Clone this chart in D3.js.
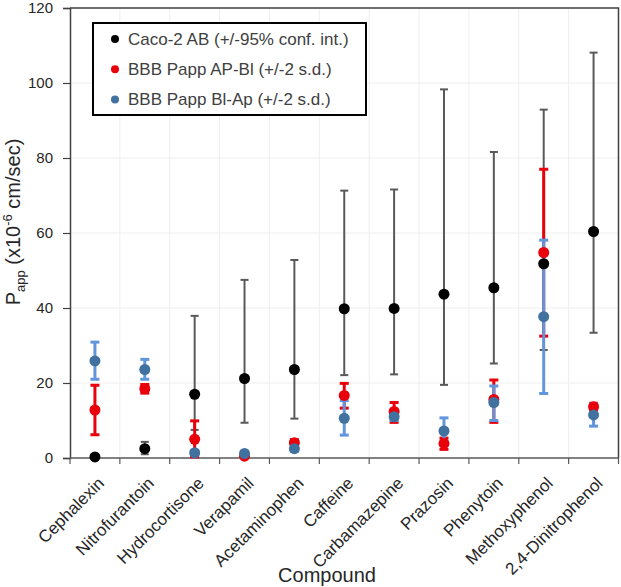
<!DOCTYPE html>
<html>
<head>
<meta charset="utf-8">
<script src="https://d3js.org/d3.v7.min.js"></script>
<style>
  body { margin: 0; background: #fff; }
  text { font-family: "Liberation Sans", Arial, sans-serif; }
</style>
</head>
<body>
<div id="chart"></div>
<script>
// data
var compounds = ["Cephalexin", "Nitrofurantoin", "Hydrocortisone", "Verapamil", "Acetaminophen",
  "Caffeine", "Carbamazepine", "Prazosin", "Phenytoin", "Methoxyphenol", "2,4-Dinitrophenol"];

// Caco-2 AB (+/-95% conf. int.)
var cacoMean = [0.3, 2.5, 17.0, 21.2, 23.6, 39.8, 39.9, 43.7, 45.4, 51.8, 60.4];
var cacoLow  = [0.1, 1.0, 7.5, 9.4, 10.5, 22.1, 22.3, 19.5, 25.2, 28.8, 33.4];
var cacoHigh = [0.6, 4.3, 37.9, 47.5, 52.8, 71.3, 71.6, 98.3, 81.6, 92.9, 108.1];

// BBB Papp AP-Bl (+/-2 s.d.)
var apblMean = [12.8, 18.5, 5.0, 0.5, 4.1, 16.7, 12.4, 3.9, 15.6, 54.8, 13.7];
var apblLow  = [6.2, 17.3, 0.3, 0.2, 3.3, 13.3, 9.5, 2.3, 9.5, 32.5, 12.8];
var apblHigh = [19.4, 19.6, 9.9, 0.8, 4.9, 19.9, 14.8, 5.3, 20.8, 77.0, 14.6];

// BBB Papp Bl-Ap (+/-2 s.d.)
var blapMean = [25.9, 23.6, 1.4, 1.2, 2.5, 10.6, 11.0, 7.2, 14.8, 37.7, 11.5];
var blapLow  = [21.0, 21.0, 0.9, 0.8, 1.8, 6.1, 10.0, 3.6, 10.0, 17.2, 8.5];
var blapHigh = [30.9, 26.3, 1.9, 1.6, 3.2, 15.3, 12.0, 10.7, 19.2, 58.1, 14.5];

var yTicks = [0, 20, 40, 60, 80, 100, 120];

var series = [
  {name: "Caco-2 AB (+/-95% conf. int.)", mean: cacoMean, low: cacoLow, high: cacoHigh,
   dot: "#000000", bar: "#595959", barWidth: 2, cap: 8},
  {name: "BBB Papp AP-Bl (+/-2 s.d.)", mean: apblMean, low: apblLow, high: apblHigh,
   dot: "#e8000b", bar: "#e8000b", barWidth: 3, cap: 9},
  {name: "BBB Papp Bl-Ap (+/-2 s.d.)", mean: blapMean, low: blapLow, high: blapHigh,
   dot: "#41729f", bar: "#6195dc", barWidth: 3, cap: 9}
];

var width = 621, height = 587;
var margin = {top: 8, right: 2, bottom: 129, left: 70};

var svg = d3.select("#chart")
  .append("svg")
  .attr("width", width)
  .attr("height", height);

var x = d3.scaleBand()
  .domain(compounds)
  .range([margin.left, width - margin.right - 0.5]);

var y = d3.scaleLinear()
  .domain([0, 120])
  .range([height - margin.bottom, margin.top]);

// gridlines
svg.append("g")
  .selectAll("line")
  .data(yTicks.slice(1))
  .join("line")
  .attr("x1", margin.left).attr("x2", x.range()[1])
  .attr("y1", d => y(d)).attr("y2", d => y(d))
  .attr("stroke", "#eeeeee");

svg.append("g")
  .selectAll("line")
  .data(compounds.slice(1))
  .join("line")
  .attr("x1", d => x(d)).attr("x2", d => x(d))
  .attr("y1", y(0)).attr("y2", y(120))
  .attr("stroke", "#eeeeee");

// plot frame (top + right)
svg.append("path")
  .attr("d", `M${margin.left},${y(120)}H${x.range()[1]}V${y(0)}`)
  .attr("fill", "none")
  .attr("stroke", "#404040")
  .attr("stroke-width", 1.5);

// axes
var yAxis = svg.append("g")
  .attr("transform", `translate(${margin.left},0)`)
  .call(d3.axisLeft(y).tickValues(yTicks).tickSize(7).tickPadding(10));
yAxis.select(".domain").attr("stroke", "#404040").attr("stroke-width", 1.5);
yAxis.selectAll(".tick line").attr("stroke", "#404040").attr("stroke-width", 1.2);
yAxis.selectAll(".tick text")
  .attr("font-size", 15)
  .attr("fill", "#262626")
  .style("font-family", "'Liberation Sans', Arial, sans-serif");

var xAxis = svg.append("g")
  .attr("transform", `translate(0,${y(0)})`);
xAxis.append("line")
  .attr("x1", margin.left).attr("x2", x.range()[1])
  .attr("stroke", "#595959").attr("stroke-width", 1.5);
xAxis.selectAll(".tk")
  .data(compounds.concat(["end"]))
  .join("line")
  .attr("class", "tk")
  .attr("x1", (d, i) => i < compounds.length ? x(d) : x.range()[1])
  .attr("x2", (d, i) => i < compounds.length ? x(d) : x.range()[1])
  .attr("y1", 0).attr("y2", 6)
  .attr("stroke", "#595959").attr("stroke-width", 1.2);

xAxis.selectAll(".lbl")
  .data(compounds)
  .join("text")
  .attr("class", "lbl")
  .attr("transform", d => `translate(${x(d) + x.bandwidth() / 2 + 6},${22}) rotate(-45)`)
  .attr("text-anchor", "end")
  .attr("dy", "0.35em")
  .attr("font-size", 17)
  .attr("fill", "#262626")
  .text(d => d);

// axis titles
svg.append("text")
  .attr("x", 327)
  .attr("y", 582)
  .attr("text-anchor", "middle")
  .attr("font-size", 20)
  .attr("fill", "#262626")
  .text("Compound");

var yTitle = svg.append("text")
  .attr("transform", "translate(20,222) rotate(-90)")
  .attr("text-anchor", "middle")
  .attr("font-size", 20)
  .attr("fill", "#262626");
yTitle.append("tspan").text("P");
yTitle.append("tspan").attr("font-size", 13).attr("dy", 5).text("app");
yTitle.append("tspan").attr("dy", -5).text(" (x10");
yTitle.append("tspan").attr("font-size", 13).attr("dy", -8).text("-6");
yTitle.append("tspan").attr("dy", 8).text(" cm/sec)");

// error bars
var cx = d => x(d) + x.bandwidth() / 2;

series.forEach(function(s) {
  var g = svg.append("g");
  var rows = compounds.map((c, i) => ({c: c, lo: s.low[i], hi: s.high[i]}));
  g.selectAll(".v")
    .data(rows)
    .join("line")
    .attr("x1", d => cx(d.c)).attr("x2", d => cx(d.c))
    .attr("y1", d => y(d.lo)).attr("y2", d => y(d.hi))
    .attr("stroke", s.bar).attr("stroke-width", s.barWidth);
  ["lo", "hi"].forEach(function(k) {
    g.selectAll(".c" + k)
      .data(rows)
      .join("line")
      .attr("class", "c" + k)
      .attr("x1", d => cx(d.c) - s.cap / 2).attr("x2", d => cx(d.c) + s.cap / 2)
      .attr("y1", d => y(d[k])).attr("y2", d => y(d[k]))
      .attr("stroke", s.bar).attr("stroke-width", s.barWidth);
  });
});

// markers
series.forEach(function(s) {
  svg.append("g")
    .selectAll("circle")
    .data(compounds.map((c, i) => ({c: c, v: s.mean[i]})))
    .join("circle")
    .attr("cx", d => cx(d.c))
    .attr("cy", d => y(d.v))
    .attr("r", 5.5)
    .attr("fill", s.dot);
});

// legend
var legend = svg.append("g");
legend.append("rect")
  .attr("x", 93).attr("y", 23)
  .attr("width", 273).attr("height", 92)
  .attr("fill", "#fff")
  .attr("stroke", "#000")
  .attr("stroke-width", 2);

var items = legend.selectAll(".item")
  .data(series)
  .join("g")
  .attr("class", "item")
  .attr("transform", (d, i) => `translate(0,${39 + i * 30.2})`);
items.append("circle")
  .attr("cx", 115).attr("cy", 0).attr("r", 4)
  .attr("fill", d => d.dot);
items.append("text")
  .attr("x", 128).attr("dy", "0.35em")
  .attr("font-size", 17)
  .attr("fill", "#404040")
  .text(d => d.name);
</script>
</body>
</html>
